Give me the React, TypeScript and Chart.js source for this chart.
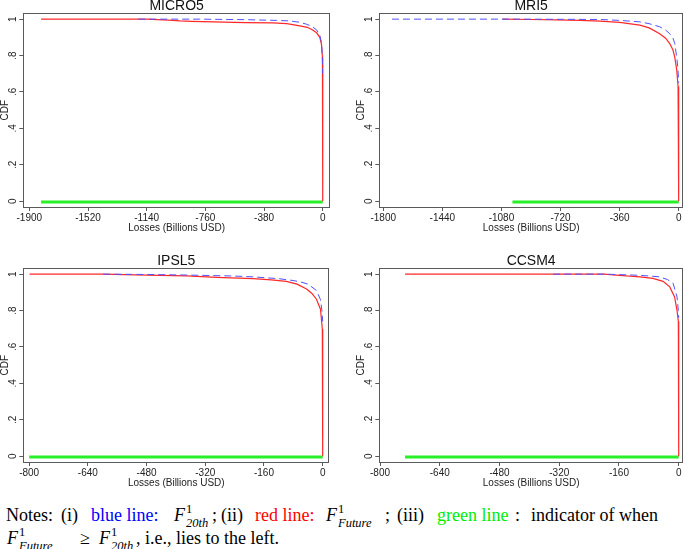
import React, { useEffect, useRef } from 'react';
import { Chart, registerables } from 'chart.js';

Chart.register(...registerables);

// ---------- shared axis data ----------
const yTickValues = [0, 0.2, 0.4, 0.6, 0.8, 1];
const yTickLabels = ['0', '.2', '.4', '.6', '.8', '1'];
const xAxisTitle = 'Losses (Billions USD)';
const yAxisTitle = 'CDF';

// ---------- MICRO5 ----------
const micro5XTicks = [-1900, -1520, -1140, -760, -380, 0];
const micro5XRange = [-1939, 47];
const micro5BlueX = [-1195, -800, -500, -300, -213, -150, -105, -70, -41, -20, -8, -3, 0];
const micro5BlueY = [1, 1, 0.997, 0.993, 0.99, 0.983, 0.972, 0.96, 0.942, 0.915, 0.87, 0.8, 0.7];
const micro5RedX = [-1824, -1140, -1000, -924, -850, -710, -500, -323, -233, -149, -100, -65, -40, -19, -8, -2, 0, 0];
const micro5RedY = [1, 1, 0.995, 0.99, 0.988, 0.985, 0.981, 0.979, 0.975, 0.963, 0.955, 0.94, 0.925, 0.9, 0.86, 0.79, 0.72, 0];
const micro5GreenX = [-1824, 0];
const micro5GreenY = [-0.005, -0.005];

// ---------- MRI5 ----------
const mri5XTicks = [-1800, -1440, -1080, -720, -360, 0];
const mri5XRange = [-1824, 26];
const mri5BlueX = [-1747, -1000, -700, -480, -360, -237, -180, -116, -80, -55, -35, -24, -10, -3, 0];
const mri5BlueY = [1, 1, 0.999, 0.998, 0.993, 0.985, 0.975, 0.958, 0.94, 0.92, 0.895, 0.866, 0.775, 0.7, 0.65];
const mri5RedX = [-1074, -900, -744, -600, -480, -360, -237, -180, -116, -80, -55, -35, -24, -12, -4, -1, 0, 0];
const mri5RedY = [1, 0.998, 0.996, 0.993, 0.989, 0.982, 0.967, 0.952, 0.92, 0.895, 0.866, 0.83, 0.79, 0.72, 0.63, 0.6, 0.58, 0];
const mri5GreenX = [-1013, 0];
const mri5GreenY = [-0.005, -0.005];

// ---------- IPSL5 ----------
const ipsl5XTicks = [-800, -640, -480, -320, -160, 0];
const ipsl5XRange = [-816, 18];
const ipsl5BlueX = [-598, -480, -371, -250, -190, -120, -81, -60, -40, -17, -6, -2, 0];
const ipsl5BlueY = [1, 0.998, 0.995, 0.99, 0.985, 0.975, 0.965, 0.957, 0.945, 0.91, 0.86, 0.8, 0.74];
const ipsl5RedX = [-799, -600, -480, -371, -289, -190, -140, -99, -70, -44, -30, -17, -6, -1, 0, 0];
const ipsl5RedY = [1, 1, 0.995, 0.99, 0.982, 0.975, 0.968, 0.96, 0.945, 0.918, 0.895, 0.862, 0.807, 0.697, 0.69, 0];
const ipsl5GreenX = [-800, 0];
const ipsl5GreenY = [-0.005, -0.005];

// ---------- CCSM4 ----------
const ccsm4XTicks = [-800, -640, -480, -320, -160, 0];
const ccsm4XRange = [-802, 11.5];
const ccsm4BlueX = [-336, -200, -170, -123, -80, -51, -30, -15, -4.5, -1, 0];
const ccsm4BlueY = [1, 1, 0.998, 0.995, 0.99, 0.985, 0.97, 0.95, 0.875, 0.8, 0.76];
const ccsm4RedX = [-733, -200, -167, -140, -104, -69, -42, -24, -11, -4.5, -1, 0, 0];
const ccsm4RedY = [1, 1, 0.995, 0.99, 0.985, 0.977, 0.96, 0.93, 0.875, 0.8, 0.74, 0.73, 0];
const ccsm4GreenX = [-733, 0];
const ccsm4GreenY = [-0.005, -0.005];

const BLUE = 'rgb(80,80,255)';
const RED = 'rgb(255,40,40)';
const GREEN = 'rgb(40,240,40)';
const AXIS = '#5a5a5a';
const TEXT = '#222';
const SANS = "'Liberation Sans', Arial, sans-serif";
const SERIF = "'Liberation Serif', 'Times New Roman', serif";

const pts = (xs: number[], ys: number[]) => xs.map((x, i) => ({ x, y: ys[i] }));

type PanelProps = {
  title: string;
  xTicks: number[];
  xRange: number[];
  blue: [number[], number[]];
  red: [number[], number[]];
  green: [number[], number[]];
  left: number;
  top: number;
  width: number;
  height: number;
  padRight: number;
};

const decorPlugin = (title: string) => ({
  id: 'decor',
  afterDraw(chart: any) {
    const { ctx, chartArea } = chart;
    const ys = chart.scales.y;
    ctx.save();
    ctx.strokeStyle = AXIS;
    ctx.lineWidth = 1;
    ctx.strokeRect(
      Math.round(chartArea.left) + 0.5,
      Math.round(chartArea.top) + 0.5,
      Math.round(chartArea.right - chartArea.left) - 1,
      Math.round(chartArea.bottom - chartArea.top)
    );
    ctx.fillStyle = TEXT;
    ctx.font = `10px ${SANS}`;
    ctx.textAlign = 'center';
    ctx.textBaseline = 'middle';
    yTickValues.forEach((v, i) => {
      const py = ys.getPixelForValue(v);
      ctx.save();
      ctx.translate(chartArea.left - 10.5, py);
      ctx.rotate(-Math.PI / 2);
      ctx.fillText(yTickLabels[i], 0, 0);
      ctx.restore();
    });
    ctx.font = `14px ${SANS}`;
    ctx.fillStyle = '#111';
    ctx.fillText(title, (chartArea.left + chartArea.right) / 2, chartArea.top - 7);
    ctx.restore();
  },
});

function Panel(p: PanelProps) {
  const ref = useRef<HTMLCanvasElement>(null);
  useEffect(() => {
    if (!ref.current) return;
    const font = { family: SANS, size: 10 };
    const chart = new Chart(ref.current, {
      type: 'scatter',
      data: {
        datasets: [
          {
            data: pts(p.blue[0], p.blue[1]),
            showLine: true,
            borderColor: BLUE,
            borderWidth: 1,
            borderDash: [7, 4],
            pointRadius: 0,
            tension: 0,
          },
          {
            data: pts(p.red[0], p.red[1]),
            showLine: true,
            borderColor: RED,
            borderWidth: 1.2,
            pointRadius: 0,
            tension: 0,
          },
          {
            data: pts(p.green[0], p.green[1]),
            showLine: true,
            borderColor: GREEN,
            borderWidth: 3,
            pointRadius: 0,
            tension: 0,
          },
        ],
      },
      options: {
        animation: false,
        responsive: false,
        maintainAspectRatio: false,
        layout: { padding: { top: 13.3, right: p.padRight, left: 0, bottom: 0 } },
        plugins: {
          legend: { display: false },
          tooltip: { enabled: false },
          title: { display: false },
        },
        scales: {
          x: {
            type: 'linear',
            min: p.xRange[0],
            max: p.xRange[1],
            afterBuildTicks: (s: any) => {
              s.ticks = p.xTicks.map((v) => ({ value: v }));
            },
            afterFit: (s: any) => {
              s.height = 33;
            },
            ticks: {
              autoSkip: false,
              maxRotation: 0,
              minRotation: 0,
              padding: 1,
              color: TEXT,
              font,
              callback: (v: any) => String(v),
            },
            grid: { drawOnChartArea: false, drawTicks: true, tickLength: 4, color: AXIS },
            border: { display: false },
            title: { display: true, text: xAxisTitle, color: TEXT, font, padding: { top: 0, bottom: 6 } },
          },
          y: {
            type: 'linear',
            min: -0.032,
            max: 1.032,
            afterBuildTicks: (s: any) => {
              s.ticks = yTickValues.map((v) => ({ value: v }));
            },
            afterFit: (s: any) => {
              s.width = 23.3;
            },
            ticks: { display: false },
            grid: { drawOnChartArea: false, drawTicks: true, tickLength: 4, color: AXIS },
            border: { display: false },
            title: { display: true, text: yAxisTitle, color: TEXT, font, padding: { top: -0.5, bottom: 0 } },
          },
        },
      } as any,
      plugins: [decorPlugin(p.title)],
    });
    return () => chart.destroy();
  }, []);
  return (
    <canvas
      ref={ref}
      width={p.width}
      height={p.height}
      style={{ position: 'absolute', left: p.left, top: p.top, width: p.width, height: p.height }}
    />
  );
}

// ---------- notes text ----------
const LINE1_TOP = 503;
const LINE2_TOP = 526;

function Seg({ x, top, color, children }: { x: number; top: number; color?: string; children: React.ReactNode }) {
  return (
    <span
      style={{
        position: 'absolute',
        left: x,
        top,
        fontFamily: SERIF,
        fontSize: 18,
        lineHeight: '24px',
        color: color || '#000',
        whiteSpace: 'nowrap',
      }}
    >
      {children}
    </span>
  );
}

function FSym({ sub }: { sub: string }) {
  return (
    <span style={{ position: 'relative', display: 'inline-block' }}>
      <i>F</i>
      <span style={{ position: 'absolute', left: 12, top: -6, fontSize: 12.5 }}>1</span>
      <i style={{ position: 'absolute', left: 12, top: 8, fontSize: 12.5 }}>{sub}</i>
    </span>
  );
}

export default function App() {
  return (
    <div style={{ position: 'absolute', left: 0, top: 0, width: 685, height: 549, background: '#fff', overflow: 'hidden' }}>
      <Panel
        title="MICRO5"
        xTicks={micro5XTicks}
        xRange={micro5XRange}
        blue={[micro5BlueX, micro5BlueY]}
        red={[micro5RedX, micro5RedY]}
        green={[micro5GreenX, micro5GreenY]}
        left={0}
        top={0}
        width={340}
        height={240}
        padRight={10}
      />
      <Panel
        title="MRI5"
        xTicks={mri5XTicks}
        xRange={mri5XRange}
        blue={[mri5BlueX, mri5BlueY]}
        red={[mri5RedX, mri5RedY]}
        green={[mri5GreenX, mri5GreenY]}
        left={356}
        top={0}
        width={329}
        height={240}
        padRight={2}
      />
      <Panel
        title="IPSL5"
        xTicks={ipsl5XTicks}
        xRange={ipsl5XRange}
        blue={[ipsl5BlueX, ipsl5BlueY]}
        red={[ipsl5RedX, ipsl5RedY]}
        green={[ipsl5GreenX, ipsl5GreenY]}
        left={0}
        top={255}
        width={340}
        height={240}
        padRight={10.7}
      />
      <Panel
        title="CCSM4"
        xTicks={ccsm4XTicks}
        xRange={ccsm4XRange}
        blue={[ccsm4BlueX, ccsm4BlueY]}
        red={[ccsm4RedX, ccsm4RedY]}
        green={[ccsm4GreenX, ccsm4GreenY]}
        left={356}
        top={255}
        width={329}
        height={240}
        padRight={2}
      />
      <Seg x={6} top={LINE1_TOP}>Notes:</Seg>
      <Seg x={61} top={LINE1_TOP}>(i)</Seg>
      <Seg x={91} top={LINE1_TOP} color="#0000ff">blue line:</Seg>
      <Seg x={174} top={LINE1_TOP}><FSym sub="20th" /></Seg>
      <Seg x={212} top={LINE1_TOP}>;</Seg>
      <Seg x={221} top={LINE1_TOP}>(ii)</Seg>
      <Seg x={255} top={LINE1_TOP} color="#ff0000">red line:</Seg>
      <Seg x={326} top={LINE1_TOP}><FSym sub="Future" /></Seg>
      <Seg x={385} top={LINE1_TOP}>;</Seg>
      <Seg x={397} top={LINE1_TOP}>(iii)</Seg>
      <Seg x={437} top={LINE1_TOP} color="#00ee00">green line</Seg>
      <Seg x={515} top={LINE1_TOP}>:</Seg>
      <Seg x={531} top={LINE1_TOP}>indicator of when</Seg>
      <Seg x={7} top={LINE2_TOP}><FSym sub="Future" /></Seg>
      <Seg x={80} top={LINE2_TOP}>≥</Seg>
      <Seg x={99} top={LINE2_TOP}><FSym sub="20th" /></Seg>
      <Seg x={136} top={LINE2_TOP}>,</Seg>
      <Seg x={145} top={LINE2_TOP}>i.e., lies to the left.</Seg>
    </div>
  );
}
